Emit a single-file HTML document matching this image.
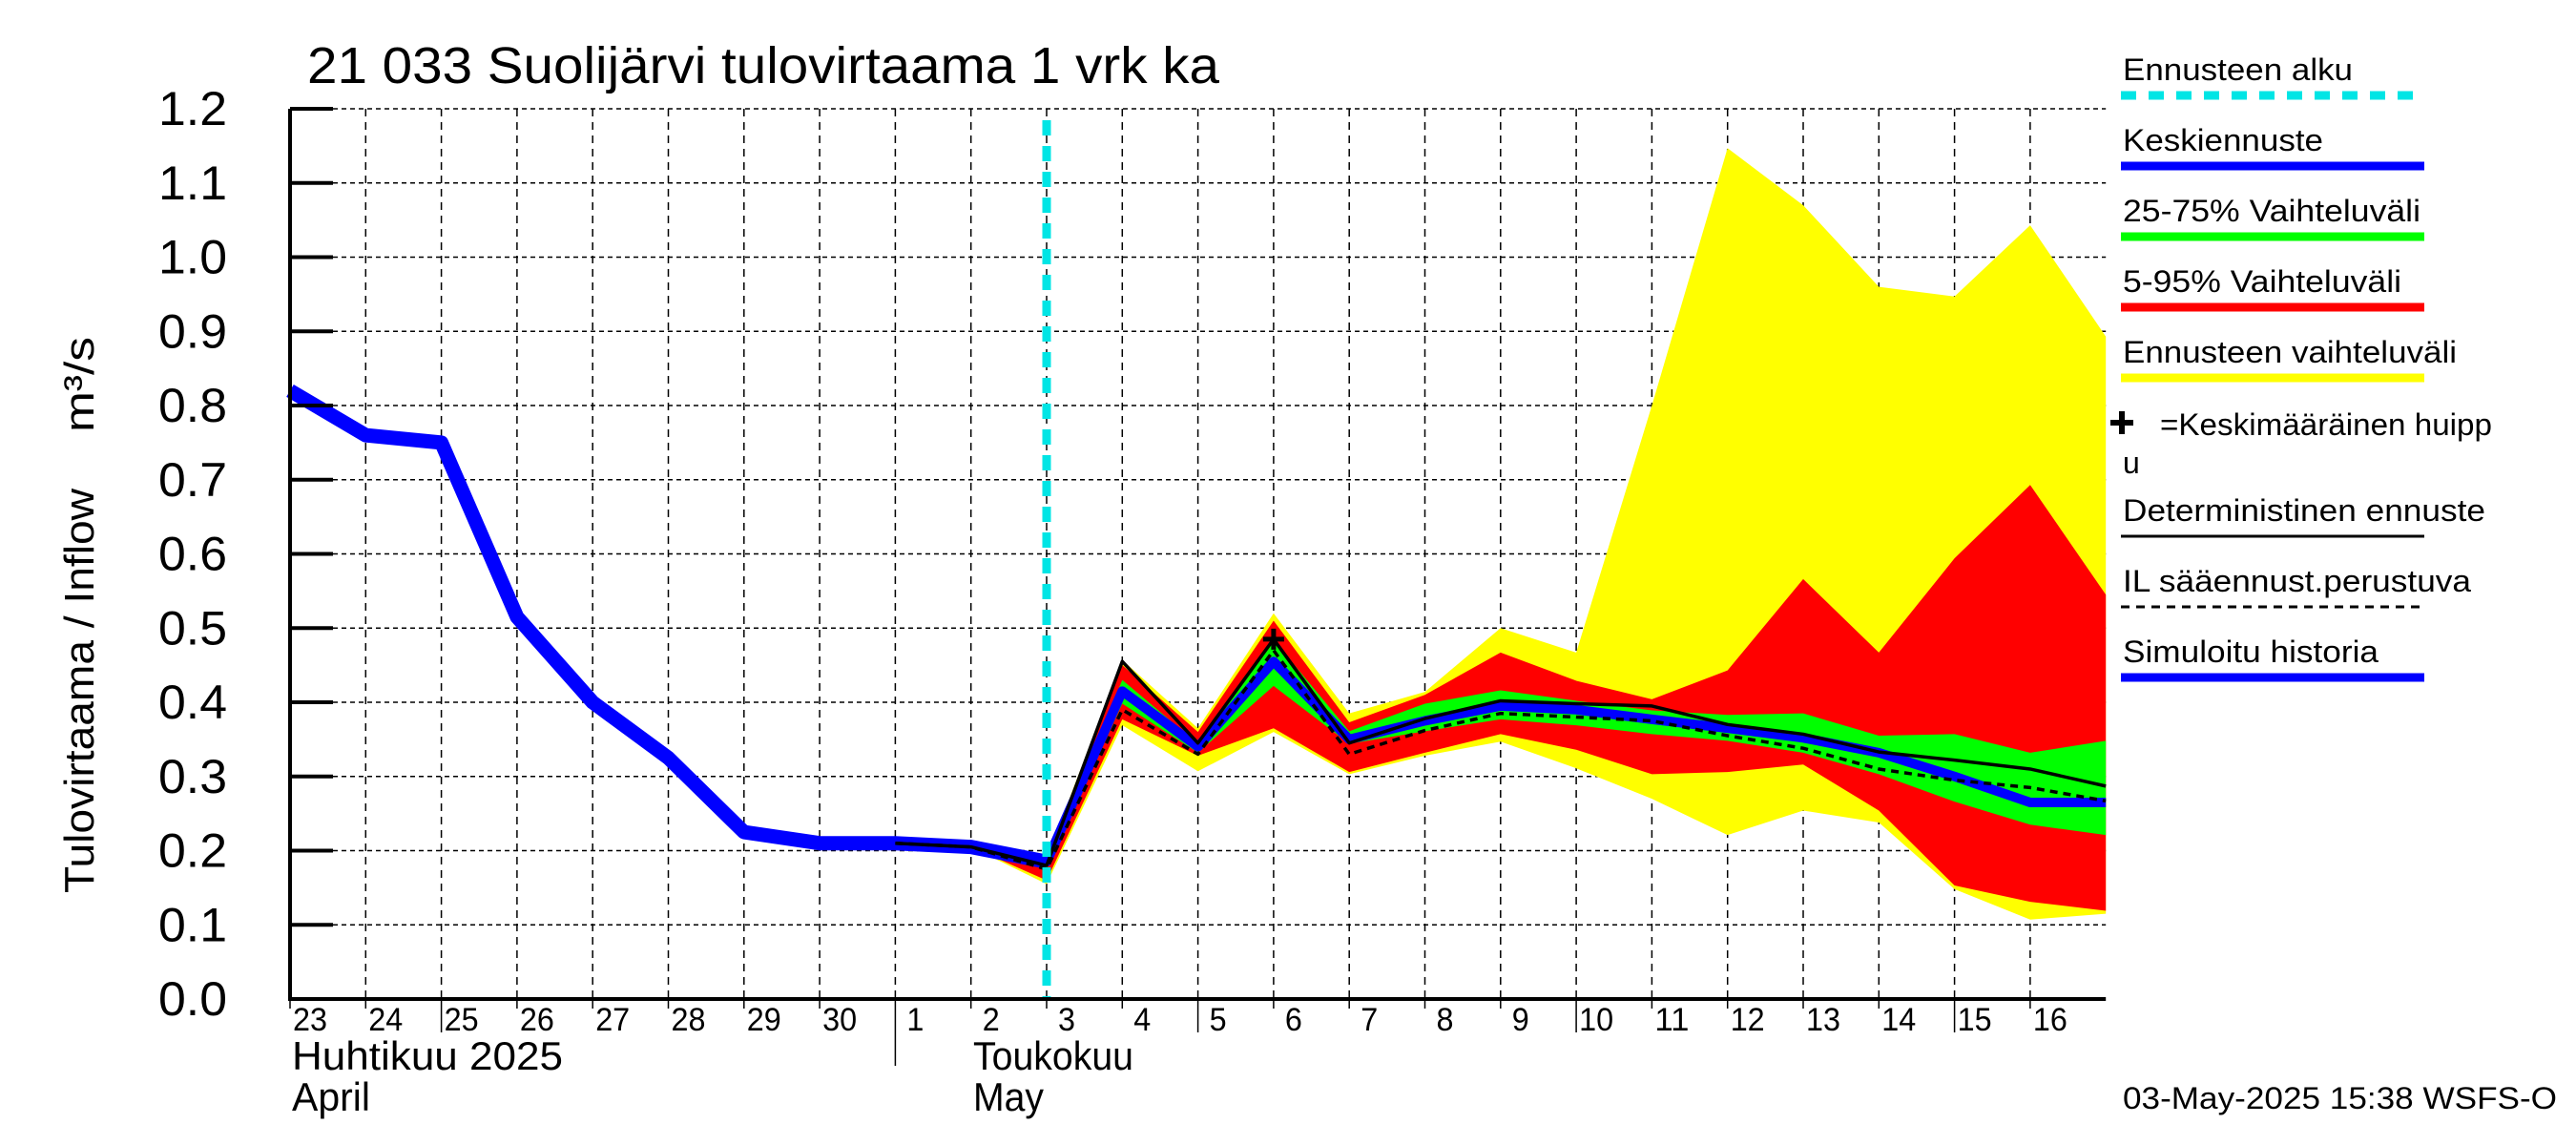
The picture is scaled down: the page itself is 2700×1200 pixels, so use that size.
<!DOCTYPE html>
<html><head><meta charset="utf-8"><style>
html,body{margin:0;padding:0;background:#fff}
svg{display:block}
text{font-family:"Liberation Sans","DejaVu Sans",sans-serif;fill:#000}
</style></head><body>
<svg id="chart" width="2700" height="1200" viewBox="0 0 2700 1200">
<rect x="0" y="0" width="2700" height="1200" fill="#fff"/>
<g id="grid"></g>
<g id="bands"></g>
<g id="lines"></g>
<g id="axes"></g>
<text x="322" y="87" font-size="54" textLength="956" lengthAdjust="spacingAndGlyphs">21 033 Suolijärvi tulovirtaama 1 vrk ka</text>
<text transform="translate(98,724) rotate(-90)" text-anchor="middle" font-size="44" textLength="424" lengthAdjust="spacingAndGlyphs">Tulovirtaama / Inflow</text>
<text transform="translate(98,403) rotate(-90)" text-anchor="middle" font-size="44" textLength="100" lengthAdjust="spacingAndGlyphs">m³/s</text>
<g id="legend"></g>
<text x="2225" y="1162" font-size="32" textLength="455" lengthAdjust="spacingAndGlyphs">03-May-2025 15:38 WSFS-O</text>
</svg>
<script>
// ---- data ----
const yTicks = [0.0,0.1,0.2,0.3,0.4,0.5,0.6,0.7,0.8,0.9,1.0,1.1,1.2];
const dayLabels = ["23","24","25","26","27","28","29","30","1","2","3","4","5","6","7","8","9","10","11","12","13","14","15","16"];
const historyDays = [0,1,2,3,4,5,6,7,8,9,10];
const historyVals = [0.82,0.76,0.75,0.515,0.40,0.325,0.225,0.21,0.21,0.205,0.185];
const fcDays = [9,10,11,12,13,14,15,16,17,18,19,20,21,22,23,24];
const yellowHi = [0.205,0.19,0.457,0.365,0.52,0.385,0.414,0.50,0.467,0.80,1.147,1.07,0.96,0.947,1.043,0.893];
const yellowLo = [0.205,0.155,0.369,0.307,0.36,0.303,0.328,0.347,0.311,0.27,0.221,0.254,0.238,0.148,0.107,0.115];
const redHi = [0.205,0.19,0.45,0.36,0.51,0.373,0.41,0.467,0.429,0.404,0.443,0.566,0.467,0.594,0.693,0.545];
const redLo = [0.205,0.16,0.377,0.328,0.365,0.306,0.332,0.357,0.336,0.303,0.306,0.316,0.254,0.153,0.131,0.119];
const greenHi = [0.205,0.185,0.43,0.344,0.484,0.361,0.398,0.416,0.402,0.389,0.383,0.385,0.355,0.357,0.332,0.348];
const greenLo = [0.205,0.175,0.398,0.332,0.422,0.344,0.361,0.377,0.369,0.357,0.348,0.332,0.303,0.266,0.235,0.221];
const medianVals = [0.205,0.185,0.415,0.34,0.455,0.35,0.375,0.395,0.39,0.377,0.365,0.352,0.332,0.30,0.265,0.265];
const detDays = [8,9,10,11,12,13,14,15,16,17,18,19,20,21,22,23,24];
const detVals = [0.21,0.205,0.18,0.455,0.345,0.485,0.345,0.378,0.402,0.398,0.395,0.37,0.357,0.333,0.322,0.31,0.287];
const ilVals = [0.21,0.205,0.175,0.39,0.33,0.47,0.33,0.362,0.385,0.38,0.375,0.355,0.338,0.31,0.295,0.285,0.267];
const peakDay = [13];
const peakVal = [0.485];
const forecastStartDay = 10;

// ---- axes ----
const X0=304, DX=79.3, Y0=1047;
function xs(d){return X0+d*DX;}
function ys(v){return Y0-v*777.5;}
const NS="http://www.w3.org/2000/svg";
function mk(parent,tag,attrs){const e=document.createElementNS(NS,tag);for(const k in attrs)e.setAttribute(k,attrs[k]);document.getElementById(parent).appendChild(e);return e;}
const XR=xs(24);

yTicks.forEach((t,i)=>{
  if(i>0){const g=mk('grid','line',{x1:X0,x2:XR,y1:ys(t),y2:ys(t),stroke:'#000','stroke-width':1.5,'stroke-dasharray':'5,4'});
  
  }
});
dayLabels.forEach((l,i)=>{
  if(i>0){const g=mk('grid','line',{x1:xs(i),x2:xs(i),y1:ys(1.2),y2:Y0,stroke:'#000','stroke-width':1.5,'stroke-dasharray':'8,6'});
  
  }
});

function band(hi,lo,color,name){
  let p=fcDays.map((d,i)=>xs(d)+','+ys(hi[i])).join(' ')+' '+fcDays.slice().reverse().map((d,j)=>xs(d)+','+ys(lo[fcDays.length-1-j])).join(' ');
  const e=mk('bands','polygon',{points:p,fill:color});
  
  
}
band(yellowHi,yellowLo,'#ffff00','band-full-range');
band(redHi,redLo,'#ff0000','band-5-95');
band(greenHi,greenLo,'#00ff00','band-25-75');

function line(days,vals,color,w,name,dash){
  const a={points:days.map((d,i)=>xs(d)+','+ys(vals[i])).join(' '),fill:'none',stroke:color,'stroke-width':w,'stroke-linejoin':'round'};
  if(dash)a['stroke-dasharray']=dash;
  const e=mk('lines','polyline',a);
  
  
}
line(historyDays,historyVals,'#0000ff',15,'simulated-history-line');
line(fcDays,medianVals,'#0000ff',10,'median-forecast-line');
line(detDays,detVals,'#000',3.5,'deterministic-forecast-line');
line(detDays,ilVals,'#000',3.5,'il-forecast-line','8,6');
peakDay.forEach((d,i)=>{
  const px=xs(d),py=ys(peakVal[i]);
  const e=mk('lines','path',{d:`M${px-11},${py}H${px+11}M${px},${py-11}V${py+11}`,stroke:'#000','stroke-width':5});
  
  
});
const fs=mk('lines','line',{x1:xs(forecastStartDay),x2:xs(forecastStartDay),y1:ys(1.2)+12,y2:Y0,stroke:'#00e5e5','stroke-width':9,'stroke-dasharray':'16,11'});



let ax=mk('axes','path',{d:`M${X0},${ys(1.2)}V${Y0}H${XR}`,fill:'none',stroke:'#000','stroke-width':4});


yTicks.forEach(t=>{
  const tk=mk('axes','line',{x1:X0,x2:X0+45,y1:ys(t),y2:ys(t),stroke:'#000','stroke-width':4});
  
  
  const tx=mk('axes','text',{x:238,y:ys(t)+17,'text-anchor':'end','font-size':50,textLength:72,lengthAdjust:'spacingAndGlyphs'});
  tx.textContent=t.toFixed(1);
  
  
});
dayLabels.forEach((l,i)=>{
  const len=(i===2||i===12||i===17||i===22)?35:10;
  const tk=mk('axes','line',{x1:xs(i),x2:xs(i),y1:Y0,y2:Y0+(i===8?70:len),stroke:'#000','stroke-width':1.5});
  
  
  const tx=mk('axes','text',{x:xs(i)+(l.length>1?3:12),y:1080,'font-size':34,textLength:l.length*18,lengthAdjust:'spacingAndGlyphs'});
  tx.textContent=l;
  
  
});
[["Huhtikuu  2025",306,1121,284],["April",306,1164,82],["Toukokuu",1020,1121,168],["May",1020,1164,74]].forEach(m=>{
  const tx=mk('axes','text',{x:m[1],y:m[2],'font-size':42,textLength:m[3],lengthAdjust:'spacingAndGlyphs'});
  tx.textContent=m[0];
  
  
});

const legItems=[
 ["Ennusteen alku",'#00e5e5',9,'16,13',241],
 ["Keskiennuste",'#0000ff',9,null,210],
 ["25-75% Vaihteluväli",'#00ff00',9,null,312],
 ["5-95% Vaihteluväli",'#ff0000',9,null,292],
 ["Ennusteen vaihteluväli",'#ffff00',9,null,350],
 ["=Keskimääräinen huipp",null,0,null,348],
 ["Deterministinen ennuste",'#000',3,null,380],
 ["IL sääennust.perustuva",'#000',3,'9,7',365],
 ["Simuloitu historia",'#0000ff',9,null,268]];
legItems.forEach((it,i)=>{
  let y=[84,158,232,306,380,456,546,620,694][i];
  const tx=mk('legend','text',{x:it[1]?2225:2264,y:y,'font-size':32,textLength:it[4],lengthAdjust:'spacingAndGlyphs'});
  tx.textContent=it[0];
  
  
  if(it[1]){
    const a={x1:2223,x2:2541,y1:y+16,y2:y+16,stroke:it[1],'stroke-width':it[2]};
    if(it[3])a['stroke-dasharray']=it[3];
    const l=mk('legend','line',a);
    
    
  }
});
const pm=mk('legend','path',{d:'M2212,443H2236M2224,431V455',stroke:'#000','stroke-width':6});


const u=mk('legend','text',{x:2225,y:496,'font-size':32});
u.textContent='u';


</script>
</body></html>
